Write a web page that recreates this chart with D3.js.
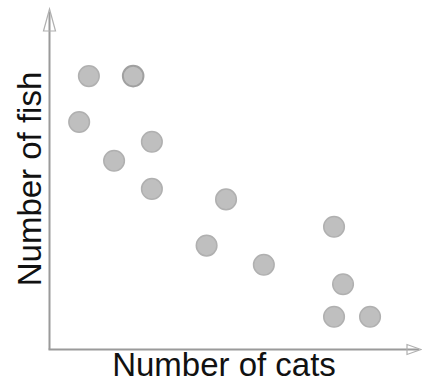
<!DOCTYPE html>
<html>
<head>
<meta charset="utf-8">
<script src="https://cdn.jsdelivr.net/npm/d3@7"></script>
<style>
  html, body { margin: 0; padding: 0; background: #fff; }
  svg { display: block; }
</style>
</head>
<body>
<div id="chart"></div>
<script>
// Data (arbitrary units)
const cats = [10.8, 23.1, 8.1, 17.8, 28.3, 28.3, 48.9, 43.5, 59.4, 78.9, 81.4, 78.9, 88.9];
const fish = [91.3, 91.3, 76.0, 63.1, 69.4, 53.7, 50.2, 34.8, 28.4, 41.1, 21.9, 11.1, 11.1];
const xLabel = "Number of cats";
const yLabel = "Number of fish";

const W = 422, H = 383;
const svg = d3.select("#chart").append("svg").attr("width", W).attr("height", H);

const x = d3.scaleLinear().domain([0, 100]).range([50, 410]);
const y = d3.scaleLinear().domain([0, 100]).range([350, 50]);

const axisColor = "#9a9a9a";
const x0 = 49.5, y0 = 349.5;

// axes lines
svg.append("line").attr("x1", x0).attr("y1", y0).attr("x2", x0).attr("y2", 12)
  .attr("stroke", axisColor).attr("stroke-width", 2);
svg.append("line").attr("x1", x0 - 1).attr("y1", y0).attr("x2", 419).attr("y2", y0)
  .attr("stroke", axisColor).attr("stroke-width", 2);

// hollow arrowheads
svg.append("path")
  .attr("d", `M${x0},9 L${x0 + 6},31 L${x0 - 6},31 Z`)
  .attr("fill", "none").attr("stroke", "#b0b0b0").attr("stroke-width", 1.2);
svg.append("path")
  .attr("d", `M421,${y0} L407,${y0 - 5} L407,${y0 + 5} Z`)
  .attr("fill", "none").attr("stroke", "#b0b0b0").attr("stroke-width", 1.2);

// points
const pts = cats.map((c, i) => ({ c, f: fish[i], i }));
svg.append("g").selectAll("circle").data(pts).join("circle")
  .attr("cx", d => x(d.c))
  .attr("cy", d => y(d.f))
  .attr("r", 10.3)
  .attr("fill", "#bfbfbf")
  .attr("stroke", d => d.i === 1 ? "#a0a0a0" : "#b0b0b0")
  .attr("stroke-width", d => d.i === 1 ? 2 : 1.5);

// labels
const font = "'Liberation Sans', Arial, Helvetica, sans-serif";
svg.append("text")
  .attr("x", 224).attr("y", 376)
  .attr("text-anchor", "middle")
  .attr("font-family", font).attr("font-size", 33)
  .attr("fill", "#111")
  .text(xLabel);
svg.append("text")
  .attr("transform", "translate(41,179) rotate(-90)")
  .attr("text-anchor", "middle")
  .attr("font-family", font).attr("font-size", 33)
  .attr("fill", "#111")
  .text(yLabel);
</script>
</body>
</html>
